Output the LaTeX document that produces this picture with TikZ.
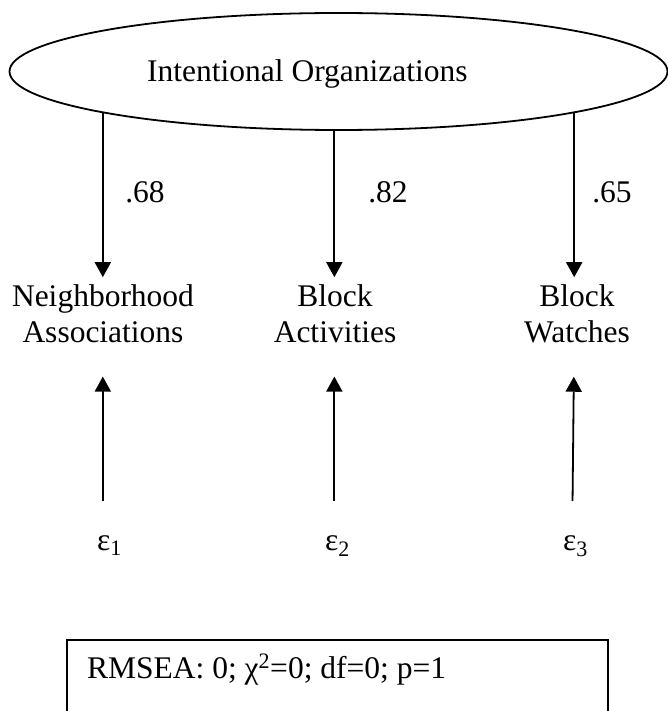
\documentclass[tikz,border=0pt]{standalone}
\usepackage{fontspec}
\setmainfont{Liberation Serif}
\usetikzlibrary{shapes.geometric,arrows.meta}
\begin{document}
\begin{tikzpicture}[x=1pt,y=-1pt,
  lbl/.style={font=\fontsize{31.5}{36}\selectfont, inner sep=0pt},
  load/.style={line width=1.8pt, -{Triangle[width=16pt,length=15pt]}},
  frame/.style={draw, line width=1.8pt}]
\fill[white] (0,0) rectangle (668,711);
\useasboundingbox (0,0) rectangle (668,711);
\clip (0,0) rectangle (668,711);

% latent factor
\node[frame, ellipse, minimum width=658pt, minimum height=117pt, inner sep=0pt] (lat) at (338.5,71.5) {};
\node[lbl, anchor=base west] (title) at (147,82) {Intentional Organizations};

% indicators
\node[lbl, align=center, anchor=north] (n1) at (103,284) {Neighborhood\\Associations};
\node[lbl, align=center, anchor=north] (n2) at (335,284) {Block\\Activities};
\node[lbl, align=center, anchor=north] (n3) at (577,284) {Block\\Watches};

% loadings
\node[lbl, anchor=base] (l1) at (145,203) {.68};
\node[lbl, anchor=base] (l2) at (388,203) {.82};
\node[lbl, anchor=base] (l3) at (612,203) {.65};

% error terms
\node[lbl, anchor=base west] (e1) at (97,550) {ε\textsubscript{1}};
\node[lbl, anchor=base west] (e2) at (325,550) {ε\textsubscript{2}};
\node[lbl, anchor=base west] (e3) at (563,550) {ε\textsubscript{3}};

% factor loadings
\draw[load, shorten >=6.8pt] (lat.190.16) -- (n1.north -| lat.190.16);
\draw[load, shorten >=6.8pt] (lat.266.58) -- (n2.north -| lat.266.58);
\draw[load, shorten >=6.8pt] (lat.350.28) -- (n3.north -| lat.350.28);

% error paths
\draw[load, shorten <=34pt, shorten >=34pt] (e1.north -| lat.190.16) -- (n1.south -| lat.190.16);
\draw[load, shorten <=34pt, shorten >=34pt] (e2.north -| lat.266.58) -- (n2.south -| lat.266.58);
\draw[load, shorten <=34pt, shorten >=34pt] ([xshift=-2pt]e3.north -| lat.350.28) -- (n3.south -| lat.350.28);

% fit statistics
\node[frame, anchor=north west, minimum width=541pt, minimum height=120pt, inner sep=0pt] (fitbox) at (66,639) {};
\node[lbl, anchor=base west] (fit) at (87,678) {RMSEA: 0; χ\textsuperscript{2}=0; df=0; p=1};
\end{tikzpicture}
\end{document}
